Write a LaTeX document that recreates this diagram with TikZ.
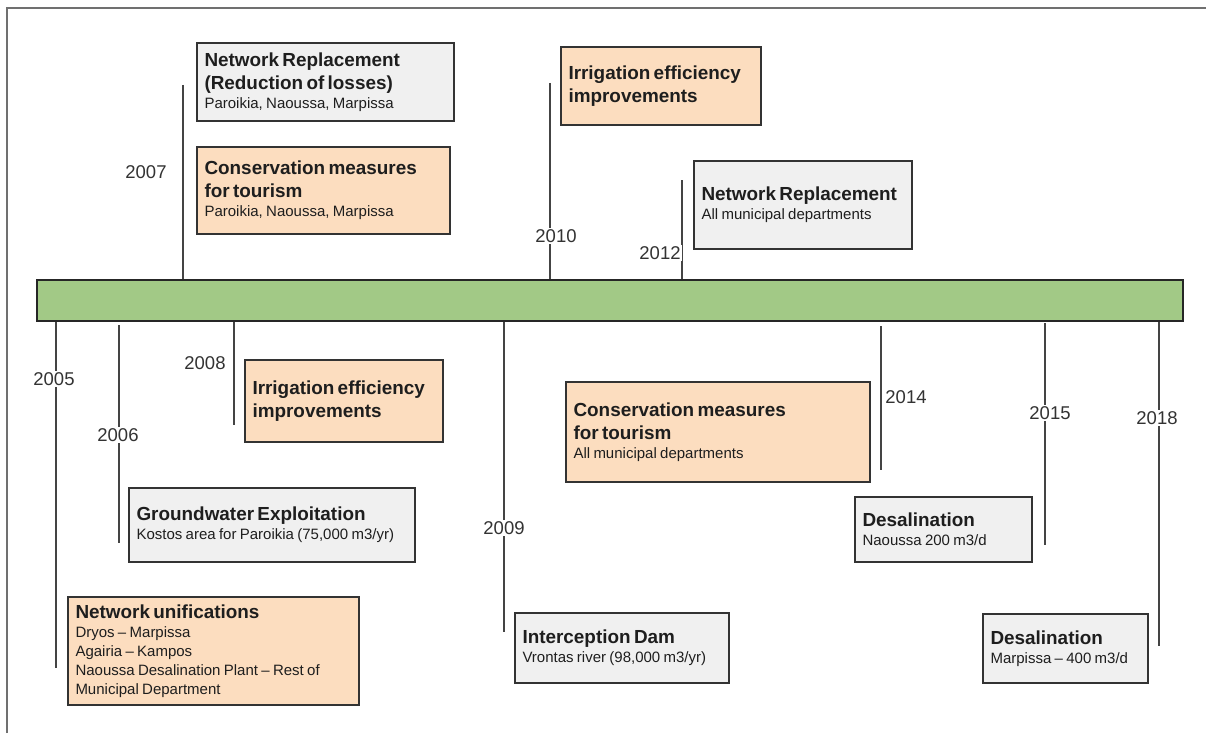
\documentclass[tikz,border=0pt]{standalone}
\usepackage{fontspec}
\setmainfont{Liberation Sans}
\usetikzlibrary{calc}

\definecolor{barfill}{HTML}{A2C986}
\definecolor{peachfill}{HTML}{FCDDBF}
\definecolor{greyfill}{HTML}{F0F0F0}
\definecolor{boxline}{HTML}{333333}
\definecolor{tickline}{HTML}{444444}
\definecolor{framegrey}{HTML}{707070}
\definecolor{bodytext}{HTML}{1E1E1E}
\definecolor{yeartext}{HTML}{333333}

% title and detail lines inside an event box
\newcommand{\evtitle}[1]{{\fontsize{18.9}{23}\selectfont\bfseries #1\par}}
\newcommand{\evdetail}[1]{{\fontsize{15}{19}\selectfont #1\par}}

\tikzset{
  frameline/.style={draw=framegrey, line width=2pt},
  timebar/.style={draw=black!85, line width=2pt, fill=barfill, inner sep=0pt},
  tickline/.style={draw=tickline, line width=1.6pt},
  yearlabel/.style={fill=white, inner sep=1.5pt, text=yeartext,
    font=\fontsize{18.5}{22}\selectfont},
  evbox/.style={draw=boxline, line width=1.4pt, inner xsep=7.5pt, inner ysep=0pt,
    align=left, text=bodytext},
  greybox/.style={evbox, fill=greyfill},
  peachbox/.style={evbox, fill=peachfill}
}

\begin{document}
\begin{tikzpicture}[x=1pt, y=-1pt]
\useasboundingbox (0,0) rectangle (1206,733);

% outer frame (top and left edges)
\draw[frameline] (7,733) -- (7,8) -- (1206,8);

% timeline bar
\node[timebar, minimum width=1146pt, minimum height=41pt] (bar) at (610,300) {};

% tick ends
\coordinate (e2007) at (183,85);
\coordinate (e2010) at (550,83);
\coordinate (e2012) at (682,180);
\coordinate (e2005) at (56,668);
\coordinate (s2006) at (119,325);
\coordinate (e2006) at (119,543);
\coordinate (e2008) at (234,425);
\coordinate (e2009) at (504,632);
\coordinate (s2014) at (881,326);
\coordinate (e2014) at (881,470);
\coordinate (s2015) at (1045,323);
\coordinate (e2015) at (1045,545);
\coordinate (e2018) at (1159,646);

% ticks above the bar
\draw[tickline] (e2007) -- (e2007 |- bar.north);
\draw[tickline] (e2010) -- (e2010 |- bar.north);
\draw[tickline] (e2012) -- (e2012 |- bar.north);
% ticks below the bar
\draw[tickline] (e2005 |- bar.south) -- (e2005);
\draw[tickline] (s2006) -- (e2006);
\draw[tickline] (e2008 |- bar.south) -- (e2008);
\draw[tickline] (e2009 |- bar.south) -- (e2009);
\draw[tickline] (s2014) -- (e2014);
\draw[tickline] (s2015) -- (e2015);
\draw[tickline] (e2018 |- bar.south) -- (e2018);

% redraw bar on top of tick roots
\node[timebar, minimum width=1146pt, minimum height=41pt] at (bar.center) {};

% year labels
\node[yearlabel] (y2007) at (146,172) {2007};
\node[yearlabel] (y2010) at (556,236) {2010};
\node[yearlabel] (y2012) at (660,253) {2012};
\node[yearlabel] (y2005) at (54,379) {2005};
\node[yearlabel] (y2006) at (118,435) {2006};
\node[yearlabel] (y2008) at (205,363) {2008};
\node[yearlabel] (y2009) at (504,528) {2009};
\node[yearlabel] (y2014) at (906,397) {2014};
\node[yearlabel] (y2015) at (1050,413) {2015};
\node[yearlabel] (y2018) at (1157,418) {2018};

% events above the bar
\node[greybox, text width=242pt, minimum height=78pt] (nrtop) at (325.5,82) {%
  \evtitle{Network Replacement\\(Reduction of losses)}%
  \evdetail{Paroikia, Naoussa, Marpissa}};
\node[peachbox, text width=238pt, minimum height=87pt] (constop) at (323.5,190.5) {%
  \evtitle{Conservation measures\\for tourism}%
  \evdetail{Paroikia, Naoussa, Marpissa}};
\node[peachbox, text width=185pt, minimum height=78pt] (irrtop) at (661,86) {%
  \evtitle{Irrigation efficiency\\improvements}};
\node[greybox, text width=203pt, minimum height=88pt] (nr12) at (803,205) {%
  \evtitle{Network Replacement}%
  \evdetail{All municipal departments}};

% events below the bar
\node[peachbox, text width=183pt, minimum height=82pt] (irr08) at (344,401) {%
  \evtitle{Irrigation efficiency\\improvements}};
\node[greybox, text width=271pt, minimum height=74pt] (gw) at (272,525) {%
  \evtitle{Groundwater Exploitation}%
  \evdetail{Kostos area for Paroikia (75,000 m3/yr)}};
\node[peachbox, text width=276pt, minimum height=108pt] (nu) at (213.5,651) {%
  \evtitle{Network unifications}%
  \evdetail{Dryos – Marpissa\\Agairia – Kampos\\Naoussa Desalination Plant – Rest of\\Municipal Department}};
\node[peachbox, text width=289pt, minimum height=100pt] (consbot) at (718,432) {%
  \evtitle{Conservation measures\\for tourism}%
  \evdetail{All municipal departments}};
\node[greybox, text width=199pt, minimum height=70pt] (dam) at (622,648) {%
  \evtitle{Interception Dam}%
  \evdetail{Vrontas river (98,000 m3/yr)}};
\node[greybox, text width=162pt, minimum height=65pt] (desn) at (943.5,529.5) {%
  \evtitle{Desalination}%
  \evdetail{Naoussa 200 m3/d}};
\node[greybox, text width=150pt, minimum height=69pt] (desm) at (1065.5,648.5) {%
  \evtitle{Desalination}%
  \evdetail{Marpissa – 400 m3/d}};

\end{tikzpicture}
\end{document}
